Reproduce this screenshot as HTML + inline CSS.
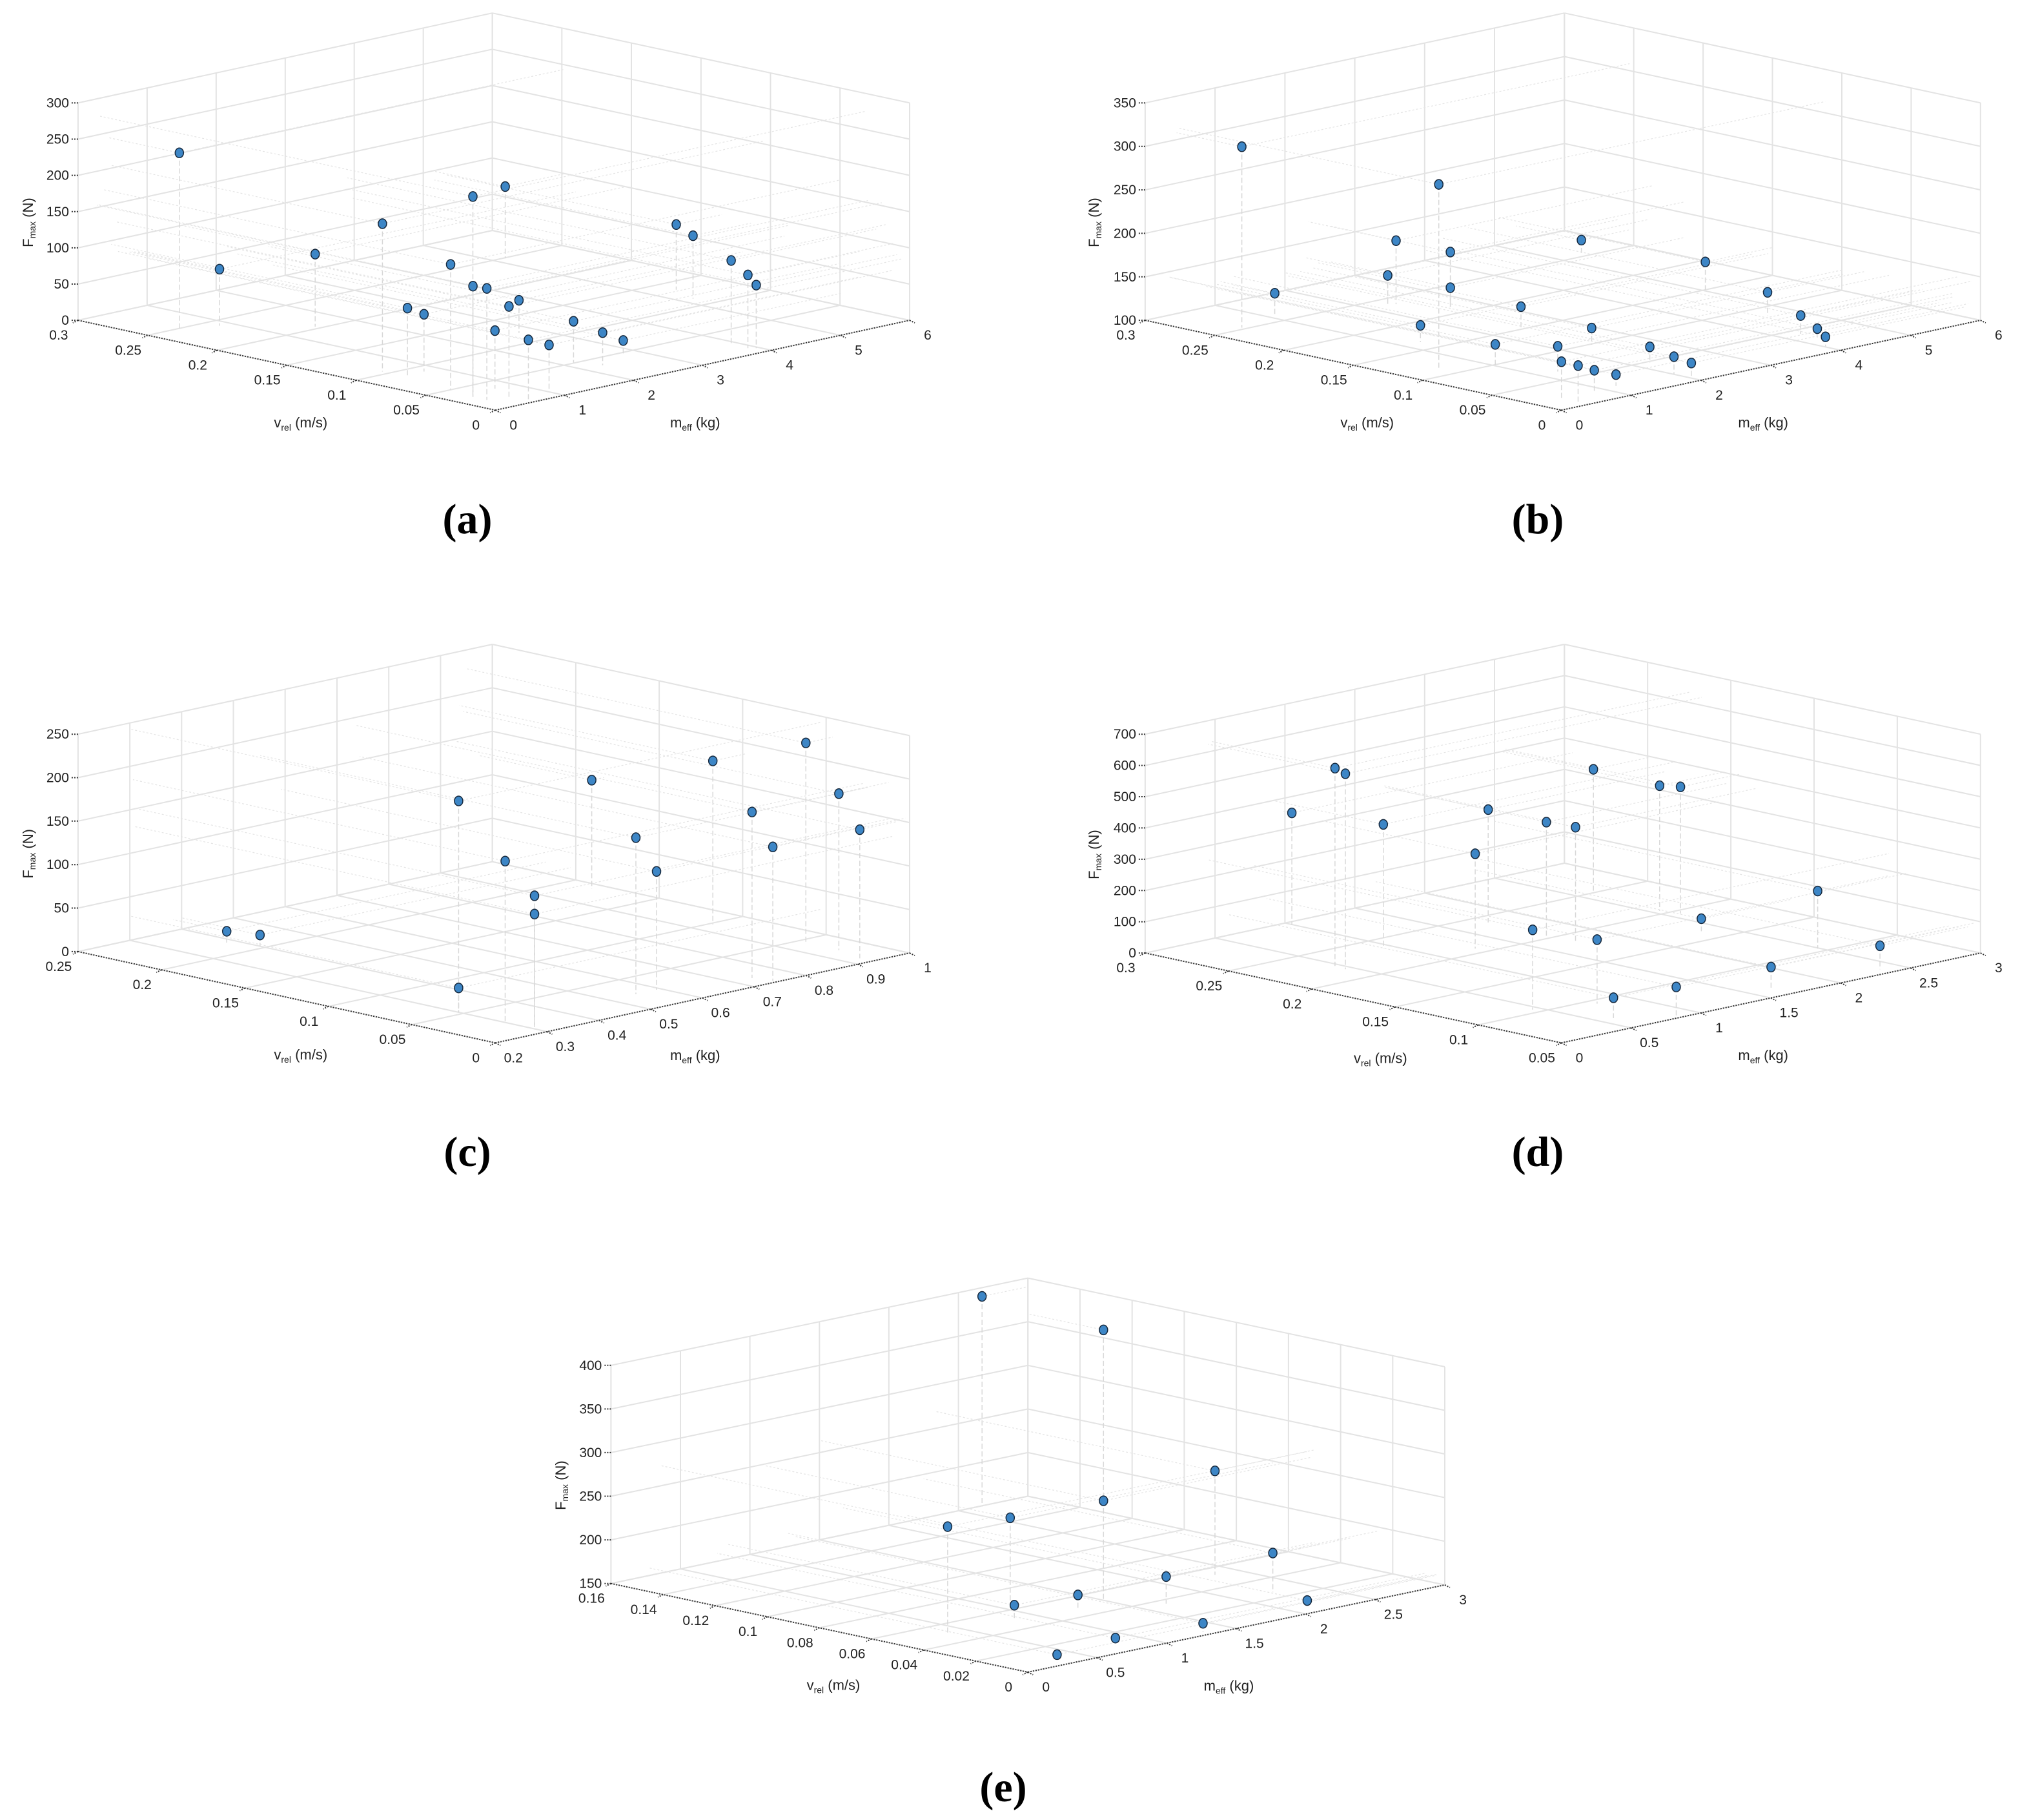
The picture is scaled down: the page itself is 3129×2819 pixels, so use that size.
<!DOCTYPE html>
<html><head><meta charset="utf-8">
<style>
html,body{margin:0;padding:0;background:#fff;}
svg{display:block;font-family:"Liberation Sans",Arial,sans-serif;}
.cap{font-family:"Liberation Serif",serif;font-weight:bold;font-size:66px;}
</style></head>
<body>
<svg id="fig" xmlns="http://www.w3.org/2000/svg" width="3129" height="2819" viewBox="0 0 3129 2819">
<rect width="3129" height="2819" fill="#fff"/>
<text class="cap" x="724" y="826" text-anchor="middle">(a)</text>
<text class="cap" x="2382" y="826" text-anchor="middle">(b)</text>
<text class="cap" x="724" y="1806" text-anchor="middle">(c)</text>
<text class="cap" x="2382" y="1806" text-anchor="middle">(d)</text>
<text class="cap" x="1554" y="2790" text-anchor="middle">(e)</text>
</svg>
<script>
// ---- data (v_rel m/s, m_eff kg, F_max N) ----
const aV=[0.249,0.24,0.204,0.105,0.05,0.032,0.249,0.135,0.114,0.024,0.012,0.009,0.03,0.02,0.12,0.017,0.087,0.09,0.036,0.005,0.012,0.051,0.036,0.048];
const aM=[0.44,0.84,1.5,0.48,0.36,0.32,5.16,5.34,5.16,3.9,3.9,3.96,0.28,0.28,2.76,0.54,0.48,0.78,0.72,0.58,1.02,2.16,2.28,2.82];
const aF=[243,78,100,204,173,275,99,90,87,116,101,87,153,154,45,125,95,79,80,83,64,57,45,18];

const bV=[0.253,0.112,0.237,0.213,0.253,0.15,0.24,0.261,0.213,0.153,0.165,0.099,0.099,0.066,0.048,0.02,0.009,0.017,0.006,0.02,0.021,0.084,0.042,0.03,0.012];
const bM=[0.45,0.47,2.34,2.64,5.31,5.04,2.28,1.08,2.64,2.46,1.26,2.4,1.02,1.26,2.22,2.01,2.04,0.34,0.36,0.87,1.2,4.62,4.26,4.26,4.02];
const bF=[308,313,173,163,117,132,133,126,122,124,119,119,124,129,118,120,116,144,143,124,113,127,121,110,111];

const cV=[0.218,0.203,0.053,0.053,0.027,0.01,0.01,0.183,0.098,0.046,0.025,0.0125,0.025,0.0025,0.0075,0.025];
const cM=[0.384,0.4,0.3,0.3,0.306,0.308,0.308,0.976,0.936,0.948,0.552,0.736,0.944,0.744,0.928,0.592];
const cF=[13,13,243,28,184,151,130,125,188,229,180,191,180,154,148,136];

const dV=[0.295,0.225,0.2175,0.235,0.24,0.2075,0.2025,0.185,0.249,0.205,0.195,0.105,0.094,0.164,0.105,0.0575,0.0625,0.054,0.069];
const dM=[0.99,0.465,0.45,0.93,1.74,1.26,1.71,1.71,2.6,2.55,2.58,0.45,0.78,2.36,2.49,2.37,1.65,0.87,0.6];
const dF=[359,633,625,397,361,303,367,371,397,400,405,255,205,40,184,75,70,91,65];

const eV=[0.16,0.131,0.053,0.051,0.066,0.05,0.026,0.036,0.048,0.05,0.0064,0.0032,0.0072,0.0032];
const eM=[2.67,3.0,2.34,1.5,1.11,0.36,2.25,1.67,1.26,0.84,2.13,1.32,0.765,0.27];
const eF=[390,359,269,264,248,273,195,181,166,167,157,160,159,159];

// tick arrays
const aVt=[0,0.05,0.1,0.15,0.2,0.25,0.3], aMt=[0,1,2,3,4,5,6], aFt=[0,50,100,150,200,250,300];
const bVt=[0,0.05,0.1,0.15,0.2,0.25,0.3], bMt=[0,1,2,3,4,5,6], bFt=[100,150,200,250,300,350];
const cVt=[0,0.05,0.1,0.15,0.2,0.25], cMt=[0.2,0.3,0.4,0.5,0.6,0.7,0.8,0.9,1], cFt=[0,50,100,150,200,250];
const dVt=[0.05,0.1,0.15,0.2,0.25,0.3], dMt=[0,0.5,1,1.5,2,2.5,3], dFt=[0,100,200,300,400,500,600,700];
const eVt=[0,0.02,0.04,0.06,0.08,0.1,0.12,0.14,0.16], eMt=[0,0.5,1,1.5,2,2.5,3], eFt=[150,200,250,300,350,400];

const NS='http://www.w3.org/2000/svg';
const svg=document.getElementById('fig');
function mk(tag,attrs,parent){const e=document.createElementNS(NS,tag);for(const k in attrs)e.setAttribute(k,attrs[k]);parent.appendChild(e);return e;}
function fmt(t){return String(+t.toFixed(3));}

function drawPanel(id,g,V,M,F,vt,mt,ft){
  const grp=mk('g',{},svg);
  
  
  const vmin=vt[0],vmax=vt[vt.length-1],mmin=mt[0],mmax=mt[mt.length-1],fmin=ft[0],fmax=ft[ft.length-1];
  function P(v,m,f){
    const u=(v-vmin)/(vmax-vmin), w=(m-mmin)/(mmax-mmin), h=(f-fmin)/(fmax-fmin)*g.zp;
    const zx=g.F[0]+u*(g.L[0]-g.F[0])+w*(g.R[0]-g.F[0]);
    const zy=g.F[1]+u*(g.L[1]-g.F[1])+w*(g.R[1]-g.F[1])-h;
    return [g.x0+zx*g.sx, g.y0+zy*g.sy];
  }
  function line(a,b,st,name){
    const l=mk('line',{x1:a[0].toFixed(1),y1:a[1].toFixed(1),x2:b[0].toFixed(1),y2:b[1].toFixed(1),stroke:st.c,'stroke-width':st.w,'stroke-dasharray':st.d||'none'},grp);
    
    
    return l;
  }
  const gs={c:'#e3e3e3',w:2};
  mt.forEach(m=>line(P(vmax,m,fmin),P(vmax,m,fmax),gs,'grid-line'));
  ft.forEach(f=>line(P(vmax,mmin,f),P(vmax,mmax,f),gs,'grid-line'));
  vt.forEach(v=>line(P(v,mmax,fmin),P(v,mmax,fmax),gs,'grid-line'));
  ft.forEach(f=>line(P(vmin,mmax,f),P(vmax,mmax,f),gs,'grid-line'));
  vt.forEach(v=>line(P(v,mmin,fmin),P(v,mmax,fmin),gs,'grid-line'));
  mt.forEach(m=>line(P(vmin,m,fmin),P(vmax,m,fmin),gs,'grid-line'));
  const ax={c:'#333',w:2,d:'2 2'};
  line(P(vmax,mmin,fmin),P(vmin,mmin,fmin),ax,'v-axis-line');
  line(P(vmin,mmin,fmin),P(vmin,mmax,fmin),ax,'m-axis-line');
  vt.forEach(v=>{const p=P(v,mmin,fmin);
    line(p,[p[0]-8,p[1]+4],ax,'v-tick');
    const t=mk('text',{x:p[0]-30,y:p[1]+30,'font-size':21,'text-anchor':'middle',fill:'#222'},grp);t.textContent=fmt(v);
    });
  mt.forEach(m=>{const p=P(vmin,m,fmin);
    line(p,[p[0]+8,p[1]+4],ax,'m-tick');
    const t=mk('text',{x:p[0]+28,y:p[1]+30,'font-size':21,'text-anchor':'middle',fill:'#222'},grp);t.textContent=fmt(m);
    });
  ft.forEach(f=>{const p=P(vmax,mmin,f);
    line([p[0]-10,p[1]],p,ax,'f-tick');
    const t=mk('text',{x:p[0]-14,y:p[1]+7,'font-size':21,'text-anchor':'end',fill:'#222'},grp);t.textContent=fmt(f);
    });
  const pl=P(vmax,mmin,fmin+(fmax-fmin)*0.45);
  const ft1=mk('text',{x:0,y:0,'font-size':22,fill:'#222',transform:`translate(${g.x0+g.zt*g.sx},${pl[1]}) rotate(-90)`,'text-anchor':'middle'},grp);
  ft1.innerHTML='F<tspan font-size="14" dy="4">max</tspan><tspan dy="-4"> (N)</tspan>';
  
  const pv=P((vmin+vmax)*0.42,mmin,fmin);
  const vt1=mk('text',{x:pv[0]-30,y:pv[1]+85,'font-size':22,fill:'#222','text-anchor':'middle'},grp);
  vt1.innerHTML='v<tspan font-size="14" dy="5">rel</tspan><tspan dy="-5"> (m/s)</tspan>';
  
  const pm=P(vmin,mmin+(mmax-mmin)*0.42,fmin);
  const mt1=mk('text',{x:pm[0]+40,y:pm[1]+85,'font-size':22,fill:'#222','text-anchor':'middle'},grp);
  mt1.innerHTML='m<tspan font-size="14" dy="5">eff</tspan><tspan dy="-5"> (kg)</tspan>';
  
  const pr={c:'#e4e4e4',w:1.2,d:'3 3'};
  for(let i=0;i<V.length;i++){
    const p=P(V[i],M[i],F[i]);
    line(p,P(V[i],M[i],fmin),{c:'#d8d8d8',w:1.5,d:'8 4'},'stem');
    line(p,P(vmax,M[i],F[i]),pr,'projection-line');
    line(p,P(V[i],mmax,F[i]),pr,'projection-line');
  }
  for(let i=0;i<V.length;i++){
    const p=P(V[i],M[i],F[i]);
    const c=mk('ellipse',{cx:p[0].toFixed(1),cy:p[1].toFixed(1),rx:6.5,ry:7.5,fill:'#3d86c6',stroke:'#16283c','stroke-width':1.5},grp);
    
    
  }
}

drawPanel('a',{x0:0,y0:0,sx:0.93,sy:0.449,L:[130,1105],F:[825,1415],R:[1515,1105],zp:750,zt:55},aV,aM,aF,aVt,aMt,aFt);
drawPanel('b',{x0:1620,y0:0,sx:0.962,sy:0.449,L:[160,1105],F:[830,1415],R:[1505,1105],zp:750,zt:85},bV,bM,bF,bVt,bMt,bFt);
drawPanel('c',{x0:0,y0:980,sx:0.93,sy:0.449,L:[130,1100],F:[825,1415],R:[1515,1105],zp:750,zt:55},cV,cM,cF,cVt,cMt,cFt);
drawPanel('d',{x0:1620,y0:980,sx:0.962,sy:0.449,L:[160,1105],F:[830,1415],R:[1505,1105],zp:755,zt:85},dV,dM,dF,dVt,dMt,dFt);
drawPanel('e',{x0:820,y0:1960,sx:0.936,sy:0.436,L:[135,1130],F:[825,1445],R:[1515,1135],zp:775,zt:60},eV,eM,eF,eVt,eMt,eFt);
</script>
</body></html>
